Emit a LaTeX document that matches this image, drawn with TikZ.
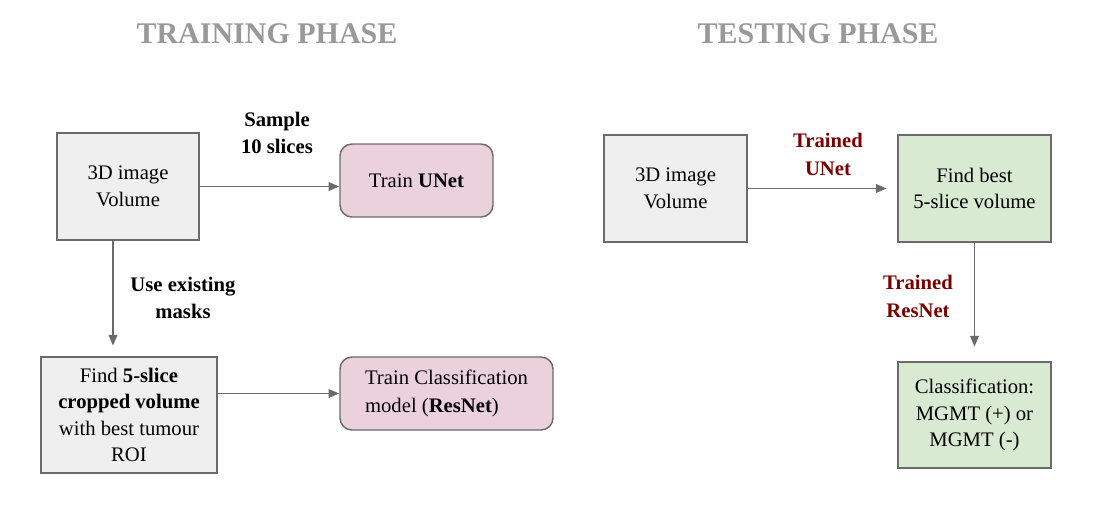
\documentclass[tikz,border=0pt]{standalone}
\usepackage{fontspec}
\setmainfont{Liberation Serif}
\usetikzlibrary{arrows.meta}
\definecolor{boxgray}{HTML}{EFEFEF}
\definecolor{boxpink}{HTML}{EAD1DC}
\definecolor{boxgreen}{HTML}{D9EAD3}
\definecolor{linegray}{HTML}{6B6B6B}
\definecolor{titlegray}{HTML}{999999}
\definecolor{darkred}{HTML}{7A0000}
\tikzset{
  body/.style={font=\fontsize{15.5}{19.8}\selectfont},
  blk/.style={body, draw=linegray, line width=1.1pt, align=center, inner sep=0pt},
  graybox/.style={blk, fill=boxgray},
  pinkbox/.style={blk, fill=boxpink, rounded corners=9pt},
  greenbox/.style={blk, fill=boxgreen},
  arr/.style={draw=linegray, line width=1.1pt, -{Triangle[length=8pt,width=6.5pt]}},
  lbl/.style={font=\fontsize{15.5}{19.8}\selectfont\bfseries, align=center, inner sep=0pt, anchor=base},
  redlbl/.style={lbl, font=\fontsize{15.5}{21}\selectfont\bfseries, text=darkred},
  title/.style={font=\fontsize{22.5}{27}\selectfont\bfseries, text=titlegray, inner sep=0pt, anchor=base}
}
\begin{document}
\begin{tikzpicture}[x=0.75pt,y=-0.75pt]
\useasboundingbox (0,0) rectangle (1101,519);
% titles
\node[title] (t1) at (267,43) {TRAINING PHASE};
\node[title] (t2) at (818,43) {TESTING PHASE};
% training phase
\node[graybox, minimum width=106.5pt, minimum height=80.25pt] (A) at (128,186.5) {3D image\\Volume};
\node[pinkbox, minimum width=114.75pt, minimum height=54.75pt] (U) at (416.5,180.5) {Train \textbf{UNet}};
\node[graybox, minimum width=132pt, minimum height=87pt] (F) at (129,415) {Find \textbf{5-slice}\\\textbf{cropped volume}\\with best tumour\\ROI};
\node[pinkbox, minimum width=159.75pt, minimum height=54.75pt, align=left, font=\fontsize{15.5}{21}\selectfont] (C) at (446.5,393.5) {Train Classification\\model (\textbf{ResNet})};
\draw[arr] (A.east) -- (A.east -| U.west);
\draw[arr, shorten >=8pt] ([xshift=-11.25pt]A.south) -- ([xshift=-11.25pt]A.south |- F.north);
\draw[arr] (C.west -| F.east) -- (C.west);
\node[lbl] (l1) at (277,153) {Sample\\10 slices};
\node[lbl] (l2) at (183,318) {Use existing\\masks};
% testing phase
\node[graybox, minimum width=107.25pt, minimum height=80.25pt] (A2) at (675.5,188.5) {3D image\\Volume};
\node[greenbox, minimum width=114.75pt, minimum height=80.25pt] (B2) at (974.5,188.5) {Find best\\5-slice volume};
\node[greenbox, minimum width=114.75pt, minimum height=79.5pt] (C2) at (974.5,415) {Classification:\\MGMT (+) or\\MGMT (-)};
\draw[arr, shorten >=8pt] (A2.east) -- (B2.west);
\draw[arr, shorten >=11pt] (B2.south) -- (C2.north);
\node[redlbl] (l3) at (828,175) {Trained\\UNet};
\node[redlbl] (l4) at (918,317) {Trained\\ResNet};
\end{tikzpicture}
\end{document}
